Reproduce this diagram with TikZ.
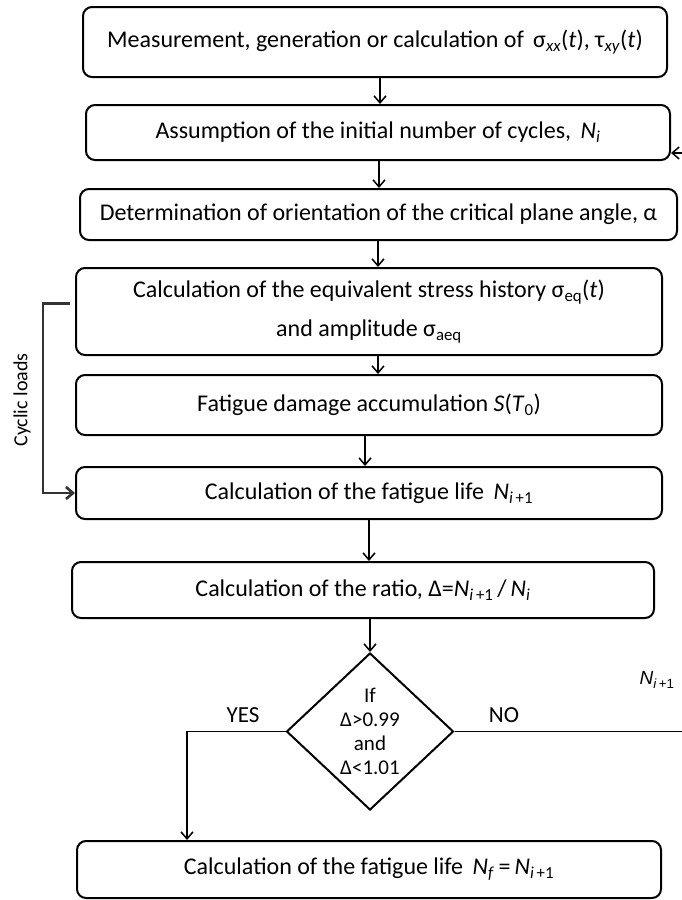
\documentclass[tikz,border=0pt]{standalone}
\usepackage{fontspec}
\setmainfont{Carlito}
\newfontfamily\arialfont{Liberation Sans}
\usetikzlibrary{shapes,arrows,arrows.meta,calc,positioning}
\newcommand{\Ni}{\textit{N}\textsubscript{\textit{i}}}
\newcommand{\Nip}{\textit{N}\textsubscript{\textit{i}\,+1}}

\begin{document}
\begin{tikzpicture}[x=1pt, y=-1pt, >={Straight Barb[length=7pt,width=12pt]}, block/.style={
draw, rectangle, rounded corners=9pt, line width=2pt, align=center, inner sep=0pt, font=\fontsize{24}{32}\selectfont
}, decision/.style={
draw, diamond, line width=2pt, inner sep=0pt, minimum width = 167pt, minimum height = 157pt
}, link/.style={->, line width=1.5pt}]
  \useasboundingbox (0,0) rectangle (682,900);

    \node [block, minimum width = 584pt, minimum height = 70pt] (b1) at (375,42) {
    Measurement, generation or calculation of \,σ\textsubscript{\textit{xx}}(\textit{t}), τ\textsubscript{\textit{xy}}(\textit{t})};

    \node [block, minimum width = 584pt, minimum height = 55pt] (b2) at (378,132.5) {
    Assumption of the initial number of cycles, \,\Ni};

    \node [block, minimum width = 597pt, minimum height = 51pt] (b3) at (378.5,214.5) {
    Determination of orientation of the critical plane angle, α};

    \node [block, minimum width = 586pt, minimum height = 87pt] (b4) at (369,311.5) {
    Calculation of the equivalent stress history σ\textsubscript{eq}(\textit{t})\\[7pt]
    and amplitude σ\textsubscript{aeq}};

    \node [block, minimum width = 586pt, minimum height = 60pt] (b5) at (369,405) {
    Fatigue damage accumulation \textit{S}(\textit{T}\textsubscript{0})};

    \node [block, minimum width = 586pt, minimum height = 52pt] (b6) at (369,493) {
    Calculation of the fatigue life \,\Nip};

    \node [block, minimum width = 582pt, minimum height = 56pt] (b7) at (363,590) {
    Calculation of the ratio, Δ=\Nip\,/\,\Ni};

    \node [decision] (dec) at (370,731.5) {};
    \node [align=center, inner sep=0pt, font=\fontsize{21}{24}\selectfont] (dectxt) at (dec.center) {If\\Δ>0.99\\and\\Δ<1.01};

    \node [block, minimum width = 584pt, minimum height = 57pt] (b8) at (369,869.5) {
    Calculation of the fatigue life \,\textit{N}\textsubscript{\textit{f}}\,=\,\Nip};

    \node [font=\fontsize{23}{24}\selectfont] (yes) at (243,715) {YES};
    \node [font=\fontsize{23}{24}\selectfont] (no) at (504,715) {NO};
    \node [font=\arialfont\fontsize{19}{22}\selectfont] (nlbl) at (657,680) {\Nip};
    \node [rotate=90, font=\fontsize{20}{22}\selectfont] (cyclbl) at (22,400) {Cyclic loads};

  \coordinate (yesx) at (187,0);
  \coordinate (noend) at (683,731.5);
  \coordinate (backin) at (683,153);
  \coordinate (cycx) at (43,0);

  \draw[link] (b1.south -| 380,0) -- (b2.north -| 380,0);
  \draw[link] (b2.south -| 379,0) -- (b3.north -| 379,0);
  \draw[link] (b3.south -| 378,0) -- (b4.north -| 378,0);
  \draw[link] (b4.south -| 378,0) -- (b5.north -| 378,0);
  \draw[link] (b5.south -| 365,0) -- (b6.north -| 365,0);
  \draw[link] (b6.south -| 369,0) -- (b7.north -| 369,0);
  \draw[link] (b7.south -| dec.north) -- (dec.north);
  \draw[link] (dec.west) -| (yesx |- b8.north);
  \draw[line width=1.5pt] (dec.east) -- (noend);
  \draw[link] (backin) -- (b2.east |- backin);
  \draw[->, line width=2.6pt, black!80] ($(b4.west)+(-5,-8)$) -| (cycx |- b6.west) -- (b6.west);
\end{tikzpicture}
\end{document}
